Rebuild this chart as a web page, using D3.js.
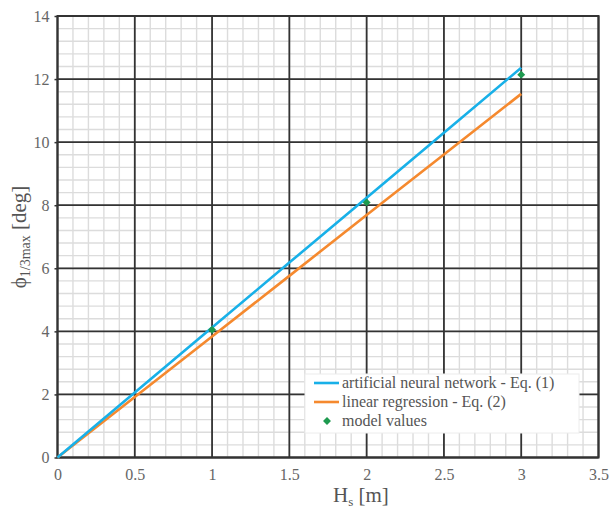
<!DOCTYPE html>
<html>
<head>
<meta charset="utf-8">
<script src="https://cdn.jsdelivr.net/npm/d3@7/dist/d3.min.js"></script>
</head>
<body style="margin:0">
<svg id="chart" width="613" height="510" font-family="Liberation Serif" style="display:block"></svg>
<script>
// Significant wave height Hs [m]
const hsValues = [0, 0.5, 1, 1.5, 2, 2.5, 3];
// Artificial neural network - Eq. (1)
const annValues = [0, 2.06, 4.12, 6.18, 8.24, 10.3, 12.36];
// Linear regression - Eq. (2)
const lrValues = [0, 1.92, 3.84, 5.76, 7.69, 9.61, 11.53];
// Model values
const modelHs = [1, 2, 3];
const modelValues = [4.05, 8.09, 12.14];

const xTicks = [0, 0.5, 1, 1.5, 2, 2.5, 3, 3.5];
const yTicks = [0, 2, 4, 6, 8, 10, 12, 14];

const legendLabels = [
  "artificial neural network - Eq. (1)",
  "linear regression - Eq. (2)",
  "model values"
];

const colors = { ann: "#18b0e8", lr: "#f5892e", model: "#1e9a4f" };
const FONT = "Liberation Serif";

const svg = d3.select("#chart");
const margin = { left: 57.5, right: 14.5, top: 16, bottom: 52.5 };
const W = 613, H = 510;

const x = d3.scaleLinear().domain([0, 3.5]).range([margin.left, W - margin.right]);
const y = d3.scaleLinear().domain([0, 14]).range([H - margin.bottom, margin.top]);

const g = svg.append("g");

// Minor grid
const xMinor = d3.range(0, 3.5001, 0.1);
const yMinor = d3.range(0, 14.001, 0.4);
g.append("g").selectAll("line").data(xMinor).join("line")
  .attr("x1", d => x(d)).attr("x2", d => x(d))
  .attr("y1", y(0)).attr("y2", y(14))
  .attr("stroke", "#dcdcdc").attr("stroke-width", 1.4);
g.append("g").selectAll("line").data(yMinor).join("line")
  .attr("y1", d => y(d)).attr("y2", d => y(d))
  .attr("x1", x(0)).attr("x2", x(3.5))
  .attr("stroke", "#dcdcdc").attr("stroke-width", 1.4);

// Major grid
g.append("g").selectAll("line").data(xTicks).join("line")
  .attr("x1", d => x(d)).attr("x2", d => x(d))
  .attr("y1", y(0)).attr("y2", y(14))
  .attr("stroke", "#333").attr("stroke-width", 1.8);
g.append("g").selectAll("line").data(yTicks).join("line")
  .attr("y1", d => y(d)).attr("y2", d => y(d))
  .attr("x1", x(0)).attr("x2", x(3.5))
  .attr("stroke", "#333").attr("stroke-width", 1.8);

// Axes (labels + small outer ticks on y)
const yAxis = d3.axisLeft(y).tickValues(yTicks).tickSize(3).tickPadding(5).tickFormat(d3.format("d"));
const yg = g.append("g").attr("transform", `translate(${x(0)},0)`).call(yAxis)
  .attr("font-family", FONT).attr("font-size", 16);
yg.select(".domain").remove();
yg.selectAll("line").attr("stroke", "#333").attr("stroke-width", 1.5);
yg.selectAll("text").attr("fill", "#666");

const xAxis = d3.axisBottom(x).tickValues(xTicks).tickSize(0).tickPadding(11).tickFormat(d => d);
const xg = g.append("g").attr("transform", `translate(0,${y(0)})`).call(xAxis)
  .attr("font-family", FONT).attr("font-size", 16);
xg.select(".domain").remove();
xg.selectAll("text").attr("fill", "#666");

// Frame
g.append("rect")
  .attr("x", x(0)).attr("y", y(14))
  .attr("width", x(3.5) - x(0)).attr("height", y(0) - y(14))
  .attr("fill", "none").attr("stroke", "#333").attr("stroke-width", 2);

// Series lines
const line = d3.line().x(d => x(d[0])).y(d => y(d[1]));
g.append("path").datum(hsValues.map((h, i) => [h, lrValues[i]]))
  .attr("d", line).attr("fill", "none").attr("stroke", colors.lr).attr("stroke-width", 2.6);
g.append("path").datum(hsValues.map((h, i) => [h, annValues[i]]))
  .attr("d", line).attr("fill", "none").attr("stroke", colors.ann).attr("stroke-width", 2.6);

// Model points (diamonds)
const diamond = d3.symbol().type(d3.symbolDiamond2).size(40);
g.append("g").selectAll("path").data(modelHs.map((h, i) => [h, modelValues[i]])).join("path")
  .attr("d", diamond)
  .attr("transform", d => `translate(${x(d[0])},${y(d[1])})`)
  .attr("fill", colors.model);

// Legend
const lg = g.append("g").attr("transform", "translate(305,374)");
lg.append("rect").attr("width", 274).attr("height", 59)
  .attr("fill", "#fff").attr("stroke", "#ececec").attr("stroke-width", 1);
const rows = [
  { label: legendLabels[0], type: "line", color: colors.ann, cy: 9 },
  { label: legendLabels[1], type: "line", color: colors.lr, cy: 28 },
  { label: legendLabels[2], type: "point", color: colors.model, cy: 47 }
];
rows.forEach(r => {
  if (r.type === "line") {
    lg.append("line").attr("x1", 9).attr("x2", 34).attr("y1", r.cy).attr("y2", r.cy)
      .attr("stroke", r.color).attr("stroke-width", 2.6);
  } else {
    lg.append("path").attr("d", diamond).attr("transform", `translate(22,${r.cy})`).attr("fill", r.color);
  }
  lg.append("text").attr("x", 37).attr("y", r.cy + 5)
    .attr("font-family", FONT).attr("font-size", 16).attr("fill", "#555").text(r.label);
});

// Axis titles
const xt = svg.append("text").attr("x", 333).attr("y", 502)
  .attr("font-family", FONT).attr("font-size", 21).attr("fill", "#555");
xt.append("tspan").text("H");
xt.append("tspan").attr("dy", 4).attr("font-size", 13).text("s");
xt.append("tspan").attr("dy", -4).text(" [m]");

const yt = svg.append("text").attr("transform", "translate(26,237) rotate(-90)")
  .attr("text-anchor", "middle")
  .attr("font-family", FONT).attr("font-size", 21).attr("fill", "#555");
yt.append("tspan").text("\u03D5");
yt.append("tspan").attr("dy", 4).attr("font-size", 14).text("1/3max");
yt.append("tspan").attr("dy", -4).text(" [deg]");
</script>
</body>
</html>
